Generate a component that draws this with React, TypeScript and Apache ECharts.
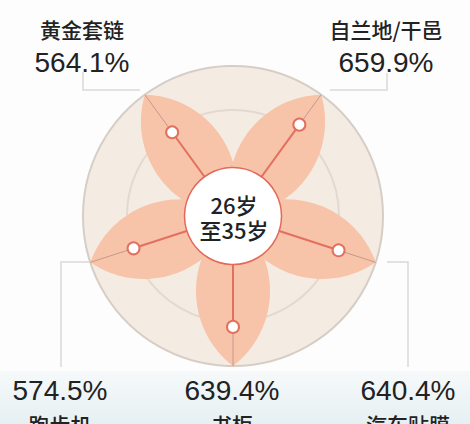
import React, { useEffect, useRef } from "react";
import * as echarts from "echarts";

const categories = ["自兰地/干邑", "汽车贴膜", "书柜", "跑步机", "黄金套链"];
const values = [659.9, 640.4, 639.4, 574.5, 564.1];
const centerText = "26岁\n至35岁";
const RADIUS_MAX = 1040;

// layout (pixels)
const CX = 233;
const CY = 216;
const R_OUT = 150;
const R_IN = 48.5;
const R_RING = 106;
const labelPos: { x: number; nameY: number; valueY: number; line: number[][] | null }[] = [
  { x: 386, nameY: 29, valueY: 62, line: [[330, 90], [387, 90], [387, 73]] },
  { x: 408, nameY: 424, valueY: 390, line: [[387, 262], [408, 262], [408, 367]] },
  { x: 232, nameY: 424, valueY: 390, line: null },
  { x: 60, nameY: 424, valueY: 390, line: [[90, 262], [61, 262], [61, 367]] },
  { x: 82, nameY: 29, valueY: 62, line: [[140, 90], [83, 90], [83, 72]] },
];

const NUM_FONT = "'Liberation Sans', Arial, sans-serif";
const CJK_FONT = "'Noto Sans CJK SC', 'Liberation Sans', sans-serif";

export default function App() {
  const ref = useRef<HTMLDivElement>(null);
  useEffect(() => {
    if (!ref.current) return;
    const chart = echarts.init(ref.current, null, { renderer: "svg" });

    const petalRender = (params: any, api: any) => {
      const idx = params.dataIndex;
      const cs = params.coordSys;
      const cx = cs.cx, cy = cs.cy;
      const tip = api.coord([RADIUS_MAX, idx]);
      const dx = tip[0] - cx, dy = tip[1] - cy;
      const L = Math.sqrt(dx * dx + dy * dy);
      const ux = dx / L, uy = dy / L;
      const px = -uy, py = ux;
      const w = 37;
      const half = L / 2;
      const rr = (w * w + half * half) / (2 * w);
      const N = 40;
      const left: number[][] = [];
      const right: number[][] = [];
      for (let i = 0; i <= N; i++) {
        const d = (L * i) / N;
        const h = Math.max(0, Math.sqrt(Math.max(0, rr * rr - (d - half) * (d - half))) - (rr - w));
        left.push([cx + ux * d + px * h, cy + uy * d + py * h]);
        right.push([cx + ux * d - px * h, cy + uy * d - py * h]);
      }
      const pts = left.concat(right.reverse());
      return {
        type: "polygon",
        shape: { points: pts },
        style: { fill: "#f7c3a9" },
      };
    };

    const lineRender = (params: any, api: any) => {
      const idx = params.dataIndex;
      const cs = params.coordSys;
      const v = api.value(0);
      const p = api.coord([v, idx]);
      const tip = api.coord([RADIUS_MAX, idx]);
      return {
        type: "group",
        children: [
          {
            type: "line",
            shape: { x1: cs.cx, y1: cs.cy, x2: p[0], y2: p[1] },
            style: { stroke: "#e3705f", lineWidth: 2 },
          },
          {
            type: "line",
            shape: { x1: p[0], y1: p[1], x2: tip[0], y2: tip[1] },
            style: { stroke: "#c79a88", lineWidth: 1 },
          },
        ],
      };
    };

    const data = values.map((v, i) => [v, i]);

    const graphics: any[] = [
      {
        type: "rect",
        shape: { x: 0, y: 371, width: 470, height: 53 },
        style: {
          fill: new echarts.graphic.LinearGradient(0, 0, 0, 1, [
            { offset: 0, color: "#f6f9fa" },
            { offset: 1, color: "#e6f0f3" },
          ]),
        },
        z: -10,
      },
      {
        type: "circle",
        shape: { cx: CX, cy: CY, r: R_OUT },
        style: { fill: "#f4ece2", stroke: "#d6cec6", lineWidth: 2 },
        z: -5,
      },
      {
        type: "circle",
        shape: { cx: CX, cy: CY, r: R_RING },
        style: { fill: "none", stroke: "#e2dad1", lineWidth: 2 },
        z: -4,
      },
      {
        type: "circle",
        shape: { cx: CX, cy: CY, r: R_IN },
        style: { fill: "#ffffff", stroke: "#e26a5b", lineWidth: 1.5 },
        z: 20,
      },
      {
        type: "text",
        x: CX + 1,
        y: CY,
        style: {
          text: centerText,
          fontSize: 22,
          fontWeight: 500,
          lineHeight: 25,
          fontFamily: CJK_FONT,
          fill: "#222",
          align: "center",
          verticalAlign: "middle",
        },
        z: 21,
      },
    ];

    categories.forEach((name, i) => {
      const lp = labelPos[i];
      if (lp.line) {
        graphics.push({
          type: "polyline",
          shape: { points: lp.line },
          style: { stroke: "#d9d9d9", lineWidth: 1.5, fill: "none" },
          z: -3,
        });
      }
      graphics.push({
        type: "text",
        x: lp.x,
        y: lp.nameY,
        style: { text: name, fontSize: 21, fontWeight: 500, fontFamily: CJK_FONT, fill: "#222", align: "center", verticalAlign: "middle" },
        z: 30,
      });
      graphics.push({
        type: "text",
        x: lp.x,
        y: lp.valueY,
        style: { text: values[i].toFixed(1) + "%", fontSize: 28, fontFamily: NUM_FONT, fill: "#222", align: "center", verticalAlign: "middle" },
        z: 30,
      });
    });

    chart.setOption({
      animation: false,
      backgroundColor: "#fdfdfd",
      polar: { center: [CX, CY], radius: [R_IN, R_OUT] },
      angleAxis: {
        type: "category",
        data: categories,
        startAngle: 54,
        clockwise: true,
        boundaryGap: false,
        show: false,
      },
      radiusAxis: { type: "value", min: 0, max: RADIUS_MAX, show: false },
      graphic: graphics,
      series: [
        {
          type: "custom",
          coordinateSystem: "polar",
          renderItem: petalRender,
          data,
          z: 2,
          silent: true,
        },
        {
          type: "custom",
          coordinateSystem: "polar",
          renderItem: lineRender,
          data,
          z: 3,
          silent: true,
        },
        {
          type: "scatter",
          coordinateSystem: "polar",
          data,
          symbol: "circle",
          symbolSize: 12,
          itemStyle: { color: "#ffffff", borderColor: "#e3705f", borderWidth: 2, opacity: 1 },
          z: 4,
        },
      ],
    });
    return () => chart.dispose();
  }, []);
  return (
    <div
      ref={ref}
      style={{ position: "fixed", left: 0, top: 0, width: 470, height: 424 }}
    />
  );
}
